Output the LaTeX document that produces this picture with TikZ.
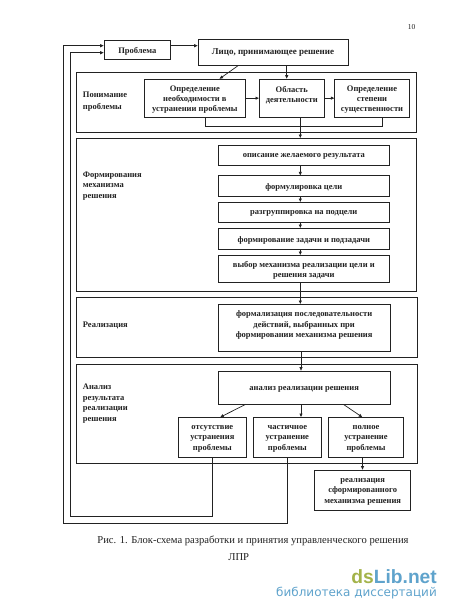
\documentclass[tikz,border=0pt]{standalone}
\usepackage{fontspec}
\setmainfont{Liberation Serif}
\newfontfamily\wmfont{Liberation Sans}
\newfontfamily\wmfontb{DejaVu Sans}
\usetikzlibrary{arrows.meta,calc}
\definecolor{ink}{HTML}{222222}
\definecolor{wmgreen}{HTML}{A3B34A}
\definecolor{wmblue}{HTML}{5FA3CC}
\tikzset{
  base/.style={draw=ink,line width=0.8pt,inner sep=0pt,outer sep=0pt},
  frame/.style={base,line width=0.9pt},
  boxtext/.style={inner sep=0pt,align=center,font=\fontsize{8.5}{10.4}\selectfont\bfseries,text=ink,yshift=-1.5pt},
  lab/.style={inner sep=0pt,align=left,anchor=west,font=\fontsize{8.5}{10.5}\selectfont\bfseries,text=ink,yshift=-1.5pt},
  conn/.style={draw=ink,line width=0.7pt},
  arr/.style={conn,-{Latex[length=3.8pt,width=3.4pt]}},
  plain/.style={inner sep=0pt,text=ink}
}
\newcommand{\bx}[7][base]{\node[#1,minimum width={(#5)-(#3)},minimum height={(#6)-(#4)}] (#2) at ({((#3)+(#5))/2},{((#4)+(#6))/2}) {};\node[boxtext] (#2t) at (#2.center) {#7};}
\newcommand{\fr}[5]{\node[frame,minimum width={(#4)-(#2)},minimum height={(#5)-(#3)}] (#1) at ({((#2)+(#4))/2},{((#3)+(#5))/2}) {};}
\begin{document}
\begin{tikzpicture}[x=1pt,y=-1pt]
\useasboundingbox (0,0) rectangle (450,614);
\fill[white] (0,0) rectangle (450,614);
\node[plain,font=\fontsize{7.5}{9}\selectfont] (pg) at (411.7,27) {10};

% frames
\fr{f1}{76.7}{72.3}{416.7}{132}
\fr{f2}{76.7}{138.3}{416.7}{291.7}
\fr{f3}{76.7}{297.7}{417.3}{357.7}
\fr{f4}{76.7}{364}{417.3}{463.7}

% top
\bx{prob}{104}{40}{170.7}{59.3}{Проблема}
\bx{lpr}{198}{39.3}{348}{65.7}{\raisebox{5pt}{\fontsize{9}{10}\selectfont Лицо, принимающее решение}}

% frame 1
\bx{nec}{144}{79}{245.7}{117.3}{Определение\\необходимости в\\устранении проблемы}
\bx{area}{259.3}{79}{324.3}{117.3}{Область\\деятельности\\}
\bx{deg}{334.7}{79}{409.3}{117.3}{Определение\\степени\\существенности}

% frame 2
\bx{desc}{218.3}{145}{389.3}{165.3}{описание желаемого результата}
\bx{goal}{218.3}{175.7}{389.3}{196}{формулировка цели}
\bx{sub}{218.3}{202.3}{389.3}{222.3}{разгруппировка на подцели}
\bx{task}{218.3}{228.3}{389.3}{249}{формирование задачи и подзадачи}
\bx{mech}{218.3}{255.3}{389.3}{282.3}{выбор механизма реализации цели и\\решения задачи}

% frame 3
\bx{form}{218.3}{304.3}{390}{351.7}{формализация последовательности\\действий, выбранных при\\формировании механизма решения\\}

% frame 4
\bx{anal}{218.3}{371}{390}{404.3}{анализ реализации решения}
\bx{none}{178}{417.3}{246.7}{457.3}{отсутствие\\устранения\\проблемы}
\bx{part}{253}{417.3}{321.7}{457.3}{частичное\\устранение\\проблемы}
\bx{full}{328.3}{417.3}{403.7}{457.3}{полное\\устранение\\проблемы}
\bx{real}{314.7}{470}{410.7}{510.7}{реализация\\сформированного\\механизма решения}

% section labels
\node[lab,font=\fontsize{8.5}{11.7}\selectfont\bfseries] (l1) at (82.7,100) {Понимание\\проблемы};
\node[lab] (l2) at (82.7,184.5) {Формирования\\механизма\\решения};
\node[lab] (l3) at (82.7,324) {Реализация};
\node[lab] (l4) at (82.7,402) {Анализ\\результата\\реализации\\решения};

% helper points
\coordinate (sp) at (300.3,0);
\coordinate (p1) at (0,45.7);
\coordinate (p2) at (0,52.7);
\coordinate (lprin) at (286.7,0);
\coordinate (lprdiag) at (238,0);
\coordinate (necdiag) at (219.3,0);
\coordinate (brl) at (205,126);
\coordinate (brr) at (382.3,126);
\coordinate (adl) at (245.7,0);
\coordinate (nonein) at (220,0);
\coordinate (adc) at (301,0);
\coordinate (adr) at (343.3,0);
\coordinate (fullin) at (362.5,0);
\coordinate (noneout) at (212.3,0);
\coordinate (partout) at (287.3,0);
\coordinate (lo1) at (212.3,516.3);
\coordinate (lo2) at (70.3,516.3);
\coordinate (lo3) at (287.3,523);
\coordinate (lo4) at (63.3,523);

% connectors
\draw[arr] (prob.east |- p1) -- (lpr.west |- p1);
\draw[arr] (lpr.south -| lprdiag) -- (nec.north -| necdiag);
\draw[arr] (lpr.south -| lprin) -- (area.north -| lprin);
\draw[arr] (nec.east) -- (area.west);
\draw[arr] (area.east) -- (deg.west);
\draw[conn] (nec.south -| brl) -- (brl) -- (brr) -- (deg.south -| brr);
\draw[arr] (area.south -| sp) -- (f2.north -| sp);
\draw[arr] (desc.south -| sp) -- (goal.north -| sp);
\draw[arr] (goal.south -| sp) -- (sub.north -| sp);
\draw[arr] (sub.south -| sp) -- (task.north -| sp);
\draw[arr] (task.south -| sp) -- (mech.north -| sp);
\draw[arr] (mech.south -| sp) -- (form.north -| sp);
\draw[arr] (form.south -| adc) -- (anal.north -| adc);
\draw[arr] (anal.south -| adl) -- (none.north -| nonein);
\draw[arr] (anal.south -| adc) -- (part.north -| adc);
\draw[arr] (anal.south -| adr) -- (full.north -| fullin);
\draw[arr] (full.south -| fullin) -- (real.north -| fullin);
\draw[arr] (none.south -| noneout) -- (lo1) -- (lo2) -- (lo2 |- p2) -- (prob.west |- p2);
\draw[arr] (part.south -| partout) -- (lo3) -- (lo4) -- (lo4 |- p1) -- (prob.west |- p1);

% caption
\node[plain,font=\fontsize{10.6}{12}\selectfont] (cap) at (253,540.5) {Рис. 1. Блок-схема разработки и принятия управленческого решения};
\node[plain,font=\fontsize{10.6}{12}\selectfont] (cap2) at (238.7,557.5) {ЛПР};

% watermark
\node[plain,anchor=east,font=\wmfont\fontsize{19.2}{22}\selectfont\bfseries] (wm) at (437,576.5) {\textcolor{wmgreen}{ds}\textcolor{wmblue}{Lib.net}};
\node[plain,anchor=east,text=wmblue,font=\wmfontb\fontsize{12}{13}\selectfont] (wm2) at (437,593) {библиотека диссертаций};
\end{tikzpicture}
\end{document}
